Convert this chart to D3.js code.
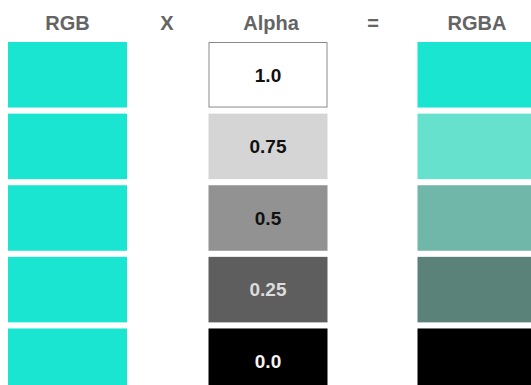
<!DOCTYPE html>
<html>
<head>
<meta charset="utf-8">
<script src="https://cdn.jsdelivr.net/npm/d3@7"></script>
<style>
  html, body { margin: 0; padding: 0; background: #fff; overflow: hidden; }
  svg { display: block; }
  text { font-family: "Liberation Sans", Arial, Helvetica, sans-serif; }
</style>
</head>
<body>
<svg id="chart" width="531" height="385"></svg>
<script>
// ---- data ----
const headers = ["RGB", "X", "Alpha", "=", "RGBA"];
const alphaValues = [1.0, 0.75, 0.5, 0.25, 0.0];
const alphaLabels = ["1.0", "0.75", "0.5", "0.25", "0.0"];
const rgbColor = "#1ae5d0";
const alphaColors = ["#ffffff", "#d5d5d5", "#929292", "#5e5e5e", "#000000"];
const rgbaColors = ["#1ae5d0", "#66e1cd", "#70b7aa", "#5a8279", "#000000"];
const labelColors = ["#111111", "#111111", "#111111", "#dcdcdc", "#f4f4f4"];

// ---- layout ----
const W = 531, H = 385;
const svg = d3.select("#chart");

const colX = d3.scaleOrdinal().domain(headers).range([67.5, 167, 268, 373, 477]);
const boxW = 119;
const y = d3.scaleBand()
  .domain(d3.range(alphaValues.length))
  .range([42, 394])
  .paddingInner(0.085)
  .paddingOuter(0);

// headers
svg.append("g").selectAll("text")
  .data(headers)
  .join("text")
  .attr("x", d => colX(d) + (d === "Alpha" ? 3 : 0))
  .attr("y", 30)
  .attr("text-anchor", "middle")
  .attr("font-size", 20)
  .attr("font-weight", "bold")
  .attr("fill", "#646464")
  .text(d => d);

// RGB column
svg.append("g").selectAll("rect")
  .data(alphaValues)
  .join("rect")
  .attr("x", colX("RGB") - boxW / 2)
  .attr("y", (d, i) => y(i))
  .attr("width", boxW)
  .attr("height", y.bandwidth())
  .attr("fill", rgbColor);

// Alpha column
const ag = svg.append("g");
ag.selectAll("rect")
  .data(alphaValues)
  .join("rect")
  .attr("x", (d, i) => colX("Alpha") - boxW / 2 + (i === 0 ? 0.5 : 0))
  .attr("y", (d, i) => y(i) + (i === 0 ? 0.5 : 0))
  .attr("width", (d, i) => boxW - (i === 0 ? 1 : 0))
  .attr("height", (d, i) => y.bandwidth() - (i === 0 ? 1 : 0))
  .attr("fill", (d, i) => alphaColors[i])
  .attr("stroke", (d, i) => i === 0 ? "#8a8a8a" : "none")
  .attr("stroke-width", 1);

ag.selectAll("text")
  .data(alphaValues)
  .join("text")
  .attr("x", colX("Alpha"))
  .attr("y", (d, i) => y(i) + y.bandwidth() / 2)
  .attr("dy", "0.36em")
  .attr("text-anchor", "middle")
  .attr("font-size", 19)
  .attr("font-weight", "bold")
  .attr("fill", (d, i) => labelColors[i])
  .text((d, i) => alphaLabels[i]);

// RGBA column
svg.append("g").selectAll("rect")
  .data(alphaValues)
  .join("rect")
  .attr("x", colX("RGBA") - boxW / 2)
  .attr("y", (d, i) => y(i))
  .attr("width", boxW)
  .attr("height", y.bandwidth())
  .attr("fill", (d, i) => rgbaColors[i]);
</script>
</body>
</html>
